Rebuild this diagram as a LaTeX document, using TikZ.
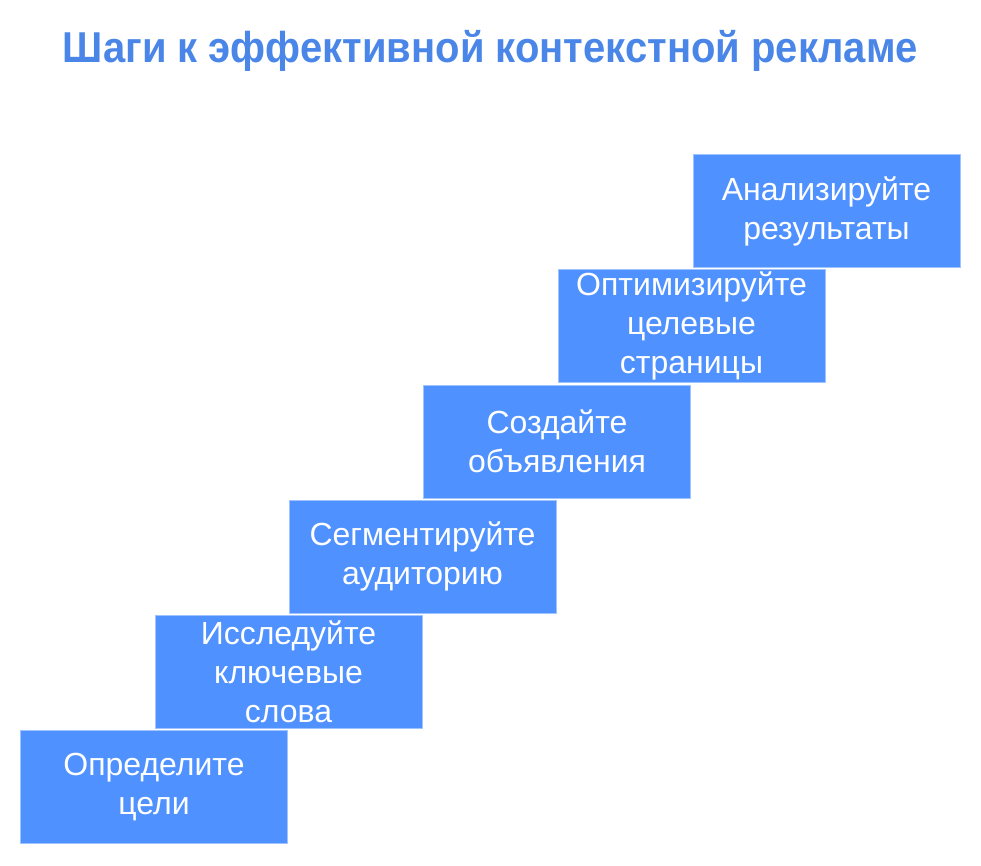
\documentclass[tikz,border=0pt]{standalone}
\usepackage{fontspec}
\setmainfont{Liberation Sans}
\definecolor{stepfill}{RGB}{79,145,255}
\definecolor{stepline}{RGB}{160,196,255}
\definecolor{titleblue}{RGB}{74,134,232}
\begin{document}
\begin{tikzpicture}[x=1pt,y=-1pt,
    stepbox/.style={draw=stepline, line width=1pt, fill=stepfill, text=white,
      minimum width=267pt, minimum height=113pt, inner sep=0pt,
      text width=262pt, align=center, font=\fontsize{32}{39}\selectfont}]
    \useasboundingbox (0,0) rectangle (981,865);
    \node[anchor=base, text=titleblue, yscale=1.08, font=\fontsize{40}{48}\selectfont\bfseries] (title) at (490.5,62) {Шаги к эффективной контекстной рекламе};
    \node[stepbox] (goals) at (154,786.5) {Определите\\цели};
    \node[stepbox] (keywords) at (288.5,671.5) {Исследуйте\\ключевые\\слова};
    \node[stepbox] (audience) at (422.5,556.5) {Сегментируйте\\аудиторию};
    \node[stepbox] (ads) at (557,441.5) {Создайте\\объявления};
    \node[stepbox] (pages) at (691.5,326) {Оптимизируйте\\целевые\\страницы};
    \node[stepbox] (results) at (826.5,211) {Анализируйте\\результаты};
  \end{tikzpicture}
\end{document}
